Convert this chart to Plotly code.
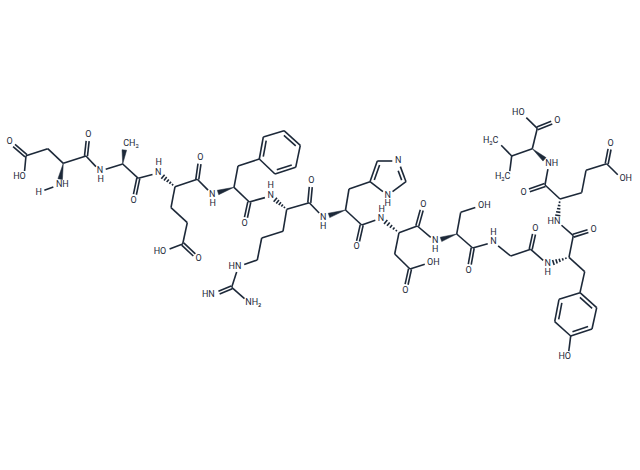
import math
import plotly.graph_objects as go

INK = "#1d2939"

# atom positions, one small table per residue
asp1 = {"O1": (9.5, 141.5), "C": (26, 155.7), "OH": (24, 177), "CB": (47.7, 148.7), "CA": (63.3, 163.3),
        "CO": (86, 156), "O": (88.3, 135), "N": (59, 185), "HN": (38.7, 192.3)}
ala = {"N": (100, 171), "CA": (122.7, 164), "CH3": (125, 144), "CO": (138.3, 178.3), "O": (133.7, 200.3)}
glu1 = {"N": (158.3, 173), "CA": (175, 186.7), "CO": (197.3, 179.3), "O": (200.3, 158), "CB": (171, 207.7),
        "CG": (187.3, 222.7), "CD": (182.7, 244), "O1": (198.7, 259), "OH": (164, 251.3)}
phe = {"N": (212.3, 194.3), "CA": (234, 187.3), "CB": (238, 166), "R1": (259.3, 159), "R2": (263.3, 137),
       "R3": (284, 130.7), "R4": (300.3, 145.3), "R5": (295.7, 167.3), "R6": (275, 174),
       "CO": (249.3, 202), "O": (244.7, 223.3)}
arg = {"N": (270.7, 196), "CA": (286.7, 209.3), "CO": (309.3, 202.7), "O": (311.3, 181), "CB": (283, 231.3),
       "CG": (261.7, 238), "CD": (257.3, 260), "NE": (238.5, 266.3), "CZ": (231.7, 287.3),
       "NH1": (213.5, 295), "NH2": (249, 302.5)}
his = {"N": (323.3, 217.3), "CA": (345.5, 210), "CB": (349, 189), "R1": (370, 181.7), "R2": (377.3, 161),
       "R3": (398.3, 161), "R4": (406, 181.7), "R5": (387.7, 195.3), "CO": (361.7, 225), "O": (356.7, 247)}
asp2 = {"N": (381, 218.3), "CA": (399, 232.7), "CO": (417.3, 226), "O": (423.3, 204.3), "CB": (394.7, 254),
        "CG": (410, 269), "OH": (430.5, 262.5), "O1": (405.3, 290.3)}
ser = {"N": (435.3, 241.3), "CA": (456.7, 234), "CB": (460.7, 212.3), "OH": (481, 205.5),
       "CO": (472.7, 248), "O": (468.7, 270.3)}
gly = {"N": (493.5, 242), "CA": (510.7, 256), "CO": (530.7, 249.3), "O": (535.3, 228.3)}
tyr = {"N": (547.7, 264.3), "CA": (569, 257.3), "CO": (573.3, 235.7), "O": (593.7, 229.3), "CB": (584.7, 271.7),
       "R1": (580, 292.7), "R2": (596.7, 307.7), "R3": (592, 329), "R4": (570.7, 336), "R5": (554.7, 321.7),
       "R6": (559, 299.3), "OH": (568, 357)}
glu2 = {"N": (557, 221.3), "CA": (560, 199), "CO": (545, 185), "O": (523.7, 192.3), "CB": (581.7, 192.7),
        "CG": (586, 170.3), "CD": (606.7, 163.7), "O1": (610.7, 143.3), "OH": (622, 179)}
val = {"N": (549, 163.3), "CA": (532.3, 148.7), "CO": (537.3, 128.3), "O": (557.3, 120.3), "OH": (522, 113.5),
       "CB": (511.7, 156), "CG1": (497, 141), "CG2": (509, 177)}

# atoms that carry a text label, so bonds stop short of them
labelled = [
    asp1["O1"], asp1["OH"], asp1["O"], asp1["N"], asp1["HN"], ala["N"], ala["CH3"], ala["O"],
    glu1["N"], glu1["O"], glu1["O1"], glu1["OH"], phe["N"], phe["O"], arg["N"], arg["O"], arg["NE"],
    arg["NH1"], arg["NH2"], his["N"], his["O"], his["R3"], his["R5"], asp2["N"], asp2["O"], asp2["OH"],
    asp2["O1"], ser["N"], ser["OH"], ser["O"], gly["N"], gly["O"], tyr["N"], tyr["O"], tyr["OH"],
    glu2["N"], glu2["O"], glu2["O1"], glu2["OH"], val["N"], val["O"], val["OH"], val["CG1"], val["CG2"],
]

single_bonds = [
    (asp1["C"], asp1["OH"]), (asp1["C"], asp1["CB"]), (asp1["CB"], asp1["CA"]), (asp1["CA"], asp1["CO"]),
    (asp1["N"], asp1["HN"]), (asp1["CO"], ala["N"]), (ala["N"], ala["CA"]), (ala["CA"], ala["CO"]),
    (ala["CO"], glu1["N"]), (glu1["CA"], glu1["CO"]), (glu1["CA"], glu1["CB"]), (glu1["CB"], glu1["CG"]),
    (glu1["CG"], glu1["CD"]), (glu1["CD"], glu1["OH"]), (glu1["CO"], phe["N"]), (phe["CA"], phe["CB"]),
    (phe["CB"], phe["R1"]), (phe["CA"], phe["CO"]), (phe["CO"], arg["N"]), (arg["CA"], arg["CO"]),
    (arg["CA"], arg["CB"]), (arg["CB"], arg["CG"]), (arg["CG"], arg["CD"]), (arg["CD"], arg["NE"]),
    (arg["NE"], arg["CZ"]), (arg["CZ"], arg["NH2"]), (arg["CO"], his["N"]), (his["CA"], his["CB"]),
    (his["CB"], his["R1"]), (his["CA"], his["CO"]), (his["CO"], asp2["N"]), (asp2["CA"], asp2["CO"]),
    (asp2["CA"], asp2["CB"]), (asp2["CB"], asp2["CG"]), (asp2["CG"], asp2["OH"]), (asp2["CO"], ser["N"]),
    (ser["CA"], ser["CB"]), (ser["CB"], ser["OH"]), (ser["CA"], ser["CO"]), (ser["CO"], gly["N"]),
    (gly["N"], gly["CA"]), (gly["CA"], gly["CO"]), (gly["CO"], tyr["N"]), (tyr["CA"], tyr["CO"]),
    (tyr["CA"], tyr["CB"]), (tyr["CB"], tyr["R1"]), (tyr["R4"], tyr["OH"]), (tyr["CO"], glu2["N"]),
    (glu2["CA"], glu2["CO"]), (glu2["CA"], glu2["CB"]), (glu2["CB"], glu2["CG"]), (glu2["CG"], glu2["CD"]),
    (glu2["CD"], glu2["OH"]), (glu2["CO"], val["N"]), (val["CA"], val["CO"]), (val["CO"], val["OH"]),
    (val["CA"], val["CB"]), (val["CB"], val["CG1"]), (val["CB"], val["CG2"]),
]
# rings: plain edges
ring_bonds = [
    (phe["R1"], phe["R6"]), (phe["R2"], phe["R3"]), (phe["R4"], phe["R5"]),
    (tyr["R2"], tyr["R3"]), (tyr["R4"], tyr["R5"]), (tyr["R6"], tyr["R1"]),
    (his["R2"], his["R3"]), (his["R4"], his["R5"]), (his["R5"], his["R1"]),
]
# carbonyls and the guanidine C=N, two lines either side of the axis
double_bonds = [
    (asp1["C"], asp1["O1"]), (asp1["CO"], asp1["O"]), (ala["CO"], ala["O"]), (glu1["CO"], glu1["O"]),
    (glu1["CD"], glu1["O1"]), (phe["CO"], phe["O"]), (arg["CO"], arg["O"]), (arg["CZ"], arg["NH1"]),
    (his["CO"], his["O"]), (asp2["CO"], asp2["O"]), (asp2["CG"], asp2["O1"]), (ser["CO"], ser["O"]),
    (gly["CO"], gly["O"]), (tyr["CO"], tyr["O"]), (glu2["CO"], glu2["O"]), (glu2["CD"], glu2["O1"]),
    (val["CO"], val["O"]),
]
# ring double bonds: outer edge plus a shorter line on the ring-centre side
phe_centre = (279.7, 152)
tyr_centre = (575.3, 314.3)
his_centre = (389, 176)
ring_double = [
    (phe["R1"], phe["R2"], phe_centre), (phe["R3"], phe["R4"], phe_centre), (phe["R5"], phe["R6"], phe_centre),
    (tyr["R1"], tyr["R2"], tyr_centre), (tyr["R3"], tyr["R4"], tyr_centre), (tyr["R5"], tyr["R6"], tyr_centre),
    (his["R1"], his["R2"], his_centre), (his["R3"], his["R4"], his_centre),
]
wedges = [
    (asp1["CA"], asp1["N"]), (ala["CA"], ala["CH3"]), (phe["CA"], phe["N"]),
    (his["CA"], his["N"]), (ser["CA"], ser["N"]), (val["CA"], val["N"]),
]
hashes = [
    (glu1["CA"], glu1["N"]), (arg["CA"], arg["N"]), (asp2["CA"], asp2["N"]),
    (tyr["CA"], tyr["N"]), (glu2["CA"], glu2["N"]),
]

label_text = [
    "O", "HO", "O", "NH", "H", "N", "H", "CH₃", "O", "N", "H", "O", "O", "HO",
    "N", "H", "O", "N", "H", "O", "HN", "HN", "NH₂", "N", "H", "O", "N", "N", "H",
    "N", "H", "O", "O", "OH", "N", "H", "OH", "O", "N", "H", "O", "N", "H", "O",
    "HN", "HO", "O", "O", "OH", "NH", "O", "HO", "H₃C", "H₃C",
]
label_x = [
    9.5, 19.5, 88.3, 62.3, 38.7, 100, 100.7, 131, 133.7, 158.3, 158.7, 200.3, 198.7, 160,
    212.3, 212.7, 244.7, 270.7, 270.7, 311.3, 235, 208.3, 253.3, 323.3, 323.3, 356.7, 398.3, 387.7, 387.7,
    381, 381.7, 423.3, 405.3, 433.3, 435.3, 435.3, 484.3, 468.7, 493.5, 493.5, 535.3, 547.7, 547.7, 593.7,
    554, 564.7, 523.7, 610.7, 625.7, 551.7, 557.3, 518.3, 490.7, 502.7,
]
label_y = [
    141.5, 177, 135, 185, 192.3, 171, 180, 143.7, 200.3, 173, 163, 158, 259, 251.3,
    194.3, 203.3, 223.3, 196, 186, 181, 266.3, 295, 302.7, 217.3, 226.3, 247, 161, 195.3, 204,
    218.3, 209.3, 204.3, 290.3, 262.3, 241, 250.2, 205.3, 270.3, 242, 233, 228.3, 264, 273.2, 229.3,
    221.3, 357, 192.3, 143.3, 179, 163.3, 120.3, 113, 141, 177,
]

GAP = 6.0


def trim(a, b):
    # pull bond ends back from any atom that has a text label
    ax, ay = a
    bx, by = b
    length = math.hypot(bx - ax, by - ay)
    ux, uy = (bx - ax) / length, (by - ay) / length
    if a in labelled:
        ax, ay = ax + ux * GAP, ay + uy * GAP
    if b in labelled:
        bx, by = bx - ux * GAP, by - uy * GAP
    return ax, ay, bx, by, ux, uy


xs, ys = [], []


def add_seg(x0, y0, x1, y1):
    xs.extend([x0, x1, None])
    ys.extend([y0, y1, None])


for a, b in single_bonds + ring_bonds:
    ax, ay, bx, by, _, _ = trim(a, b)
    add_seg(ax, ay, bx, by)

for a, b in double_bonds:
    ax, ay, bx, by, ux, uy = trim(a, b)
    for side in (-1.5, 1.5):
        add_seg(ax - uy * side, ay + ux * side, bx - uy * side, by + ux * side)

for a, b, centre in ring_double:
    ax, ay, bx, by, ux, uy = trim(a, b)
    add_seg(ax, ay, bx, by)
    nx, ny = -uy, ux
    if (centre[0] - ax) * nx + (centre[1] - ay) * ny < 0:
        nx, ny = -nx, -ny
    add_seg(ax + nx * 3.5 + ux * 3, ay + ny * 3.5 + uy * 3, bx + nx * 3.5 - ux * 3, by + ny * 3.5 - uy * 3)

for a, b in hashes:
    ax, ay, bx, by, ux, uy = trim(a, b)
    for k in range(1, 6):
        t = k / 5
        half = 0.4 + 2.2 * t
        cx, cy = ax + (bx - ax) * t, ay + (by - ay) * t
        add_seg(cx - uy * half, cy + ux * half, cx + uy * half, cy - ux * half)

fig = go.Figure()
fig.add_trace(go.Scatter(x=xs, y=ys, mode="lines", line=dict(color=INK, width=1.6), hoverinfo="skip"))

for a, b in wedges:
    ax, ay, bx, by, ux, uy = trim(a, b)
    fig.add_trace(go.Scatter(
        x=[ax, bx - uy * 2.3, bx + uy * 2.3, ax],
        y=[ay, by + ux * 2.3, by - ux * 2.3, ay],
        mode="lines", fill="toself", fillcolor=INK, line=dict(color=INK, width=0.5), hoverinfo="skip",
    ))

fig.add_trace(go.Scatter(
    x=label_x, y=label_y, text=label_text, mode="text", textposition="middle center",
    textfont=dict(family="Roboto", size=9, color=INK), hoverinfo="skip",
))

fig.update_layout(
    width=640, height=470, margin=dict(l=0, r=0, t=0, b=0), showlegend=False,
    paper_bgcolor="white", plot_bgcolor="white",
)
fig.update_xaxes(range=[0, 640], visible=False)
fig.update_yaxes(range=[470, 0], visible=False)

# the page's default body margin would push the figure 8px off
fig.write_html("out.html", config={"displayModeBar": False},
               post_script="document.body.style.margin='0';document.documentElement.style.overflow='hidden';")
